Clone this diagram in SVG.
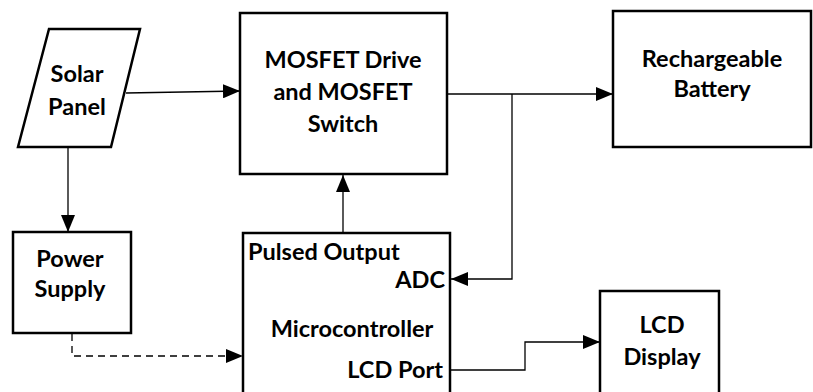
<svg xmlns="http://www.w3.org/2000/svg" width="813" height="392" viewBox="0 0 813 392">
<defs>
<marker id="ah" markerWidth="17" markerHeight="14" refX="17" refY="7" orient="auto" markerUnits="userSpaceOnUse">
<path d="M0,0 L17,7 L0,14 Z" fill="#000"/>
</marker>
<style>
.box{fill:#fff;stroke:#000;stroke-width:2.5}
.t{font-family:Lato,"Open Sans","Liberation Sans",sans-serif;font-weight:700;font-size:23.5px;fill:#000}
.c{fill:none;stroke:#000;stroke-width:1.3}
.d{fill:none;stroke:#000;stroke-width:1.3;stroke-dasharray:7,5}
</style>
</defs>
<rect width="813" height="392" fill="#fff"/>
<g id="connectors">
<path class="c" d="M126,93 L240,91" marker-end="url(#ah)"/>
<path class="c" d="M68,147 L68,232" marker-end="url(#ah)"/>
<path class="d" d="M72,334 L72,356 L243,356" marker-end="url(#ah)"/>
<path class="c" d="M343,233 L343,175" marker-end="url(#ah)"/>
<path class="c" d="M447,94 L613,94" marker-end="url(#ah)"/>
<path class="c" d="M512,94 L512,279 L451,279" marker-end="url(#ah)"/>
<path class="c" d="M451,370 L525,370 L525,342 L600,342" marker-end="url(#ah)"/>
</g>
<g id="solar">
<polygon class="box" points="49,29 140,29 111,147 18,147"/>
<text class="t" x="77" y="82" text-anchor="middle">Solar</text>
<text class="t" x="77" y="115" text-anchor="middle">Panel</text>
</g>
<g id="mosfet">
<rect class="box" x="240" y="13" width="207" height="161"/>
<text class="t" x="343" y="68" text-anchor="middle">MOSFET Drive</text>
<text class="t" x="343" y="100" text-anchor="middle">and MOSFET</text>
<text class="t" x="343" y="132" text-anchor="middle">Switch</text>
</g>
<g id="battery">
<rect class="box" x="613" y="11" width="198" height="136"/>
<text class="t" x="712" y="67" text-anchor="middle">Rechargeable</text>
<text class="t" x="712" y="97" text-anchor="middle">Battery</text>
</g>
<g id="power">
<rect class="box" x="13" y="232" width="118" height="101"/>
<text class="t" x="70" y="267" text-anchor="middle">Power</text>
<text class="t" x="70" y="297" text-anchor="middle">Supply</text>
</g>
<g id="micro">
<rect class="box" x="243" y="233" width="207" height="175"/>
<text class="t" x="248" y="260">Pulsed Output</text>
<text class="t" x="445" y="288" text-anchor="end">ADC</text>
<text class="t" x="352" y="337" text-anchor="middle">Microcontroller</text>
<text class="t" x="443" y="378" text-anchor="end">LCD Port</text>
</g>
<g id="lcd">
<rect class="box" x="600" y="291" width="119" height="110"/>
<text class="t" x="662" y="333" text-anchor="middle">LCD</text>
<text class="t" x="662" y="365" text-anchor="middle">Display</text>
</g>
</svg>
